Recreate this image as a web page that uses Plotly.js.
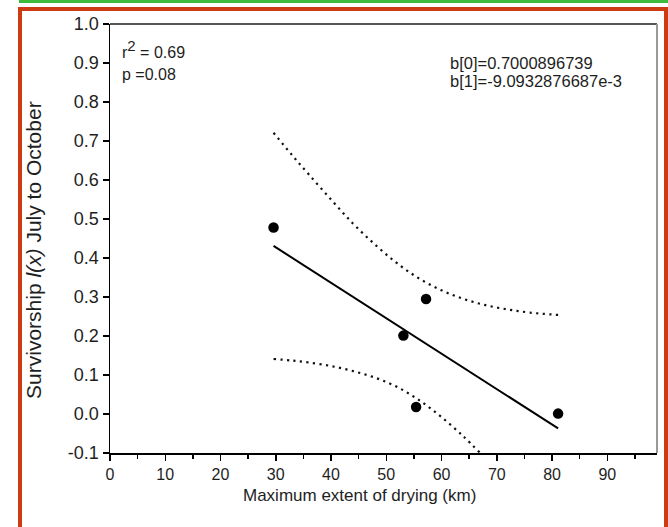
<!DOCTYPE html>
<html>
<head>
<meta charset="utf-8">
<script src="https://cdn.plot.ly/plotly-3.0.1.min.js"></script>
<style>
  html, body { margin: 0; padding: 0; background: #ffffff; }
  #wrap { position: relative; width: 668px; height: 527px; overflow: hidden; }
  #chart { position: absolute; left: 0; top: 0; width: 668px; height: 527px; }
  #green { position: absolute; left: 19px; top: 0; width: 649px; height: 3px; background: #3cbb3c; }
  #frame { position: absolute; left: 18px; top: 7px; width: 650px; height: 540px;
           border: 4px solid #cc3b12; border-bottom: none; box-sizing: border-box; pointer-events: none; }
</style>
</head>
<body>
<div id="wrap">
  <div id="chart"></div>
  <div id="green"></div>
  <div id="frame"></div>
</div>
<script>
// Observed data points
const drying = [29.6, 53.1, 57.2, 55.4, 81.1];
const survivorship = [0.478, 0.201, 0.295, 0.018, 0.001];

// Regression line
const fitX = [29.6, 81.1];
const fitY = [0.431, -0.037];

// Upper dotted band
const upperX = [29.6, 33, 36, 40, 44, 48, 52, 56, 60, 64, 68, 72, 76, 81.1];
const upperY = [0.721, 0.663, 0.614, 0.550, 0.488, 0.434, 0.386, 0.347, 0.317, 0.295, 0.279, 0.268, 0.260, 0.254];

// Lower dotted band
const lowerX = [29.6, 33, 36, 40, 44, 48, 52, 56, 60, 64, 67];
const lowerY = [0.141, 0.137, 0.132, 0.123, 0.110, 0.093, 0.069, 0.035, -0.008, -0.058, -0.100];

// Tick labels
const xTickVals = [0, 10, 20, 30, 40, 50, 60, 70, 80, 90];
const xTickText = ['0', '10', '20', '30', '40', '50', '60', '70', '80', '90'];
const yTickVals = [-0.1, 0, 0.1, 0.2, 0.3, 0.4, 0.5, 0.6, 0.7, 0.8, 0.9, 1.0];
const yTickText = ['-0.1', '0.0', '0.1', '0.2', '0.3', '0.4', '0.5', '0.6', '0.7', '0.8', '0.9', '1.0'];

const FONT = 'Arial, "Liberation Sans", Helvetica, sans-serif';
const TXT = '#1e1e1e';
const dotStyle = {color: '#111', width: 2.2, dash: '2.2px,4.4px', shape: 'spline'};

const traces = [
  {x: upperX, y: upperY, mode: 'lines', line: dotStyle, hoverinfo: 'skip'},
  {x: lowerX, y: lowerY, mode: 'lines', line: dotStyle, hoverinfo: 'skip'},
  {x: fitX, y: fitY, mode: 'lines', line: {color: '#000', width: 2}},
  {x: drying, y: survivorship, mode: 'markers', marker: {color: '#000', size: 10.5}, cliponaxis: false}
];

const layout = {
  width: 668, height: 527,
  margin: {l: 110, r: 11, t: 24, b: 74},
  paper_bgcolor: '#ffffff', plot_bgcolor: '#ffffff',
  showlegend: false,
  font: {family: FONT, size: 16, color: TXT},
  xaxis: {
    range: [0, 99], showgrid: false, zeroline: false,
    showline: true, linecolor: '#000', linewidth: 1.5,
    tickmode: 'array', tickvals: xTickVals, ticktext: xTickText,
    ticks: 'outside', ticklen: 6, tickwidth: 1.5, tickcolor: '#000',
    tickfont: {family: FONT, size: 16, color: TXT},
    minor: {dtick: 5, tick0: 0, ticks: 'outside', ticklen: 4, tickwidth: 1.5, tickcolor: '#000', showgrid: false}
  },
  yaxis: {
    range: [-0.1, 1.0], showgrid: false, zeroline: false,
    showline: true, linecolor: '#000', linewidth: 1.5,
    tickmode: 'array', tickvals: yTickVals, ticktext: yTickText,
    ticks: 'outside', ticklen: 6, tickwidth: 1.5, tickcolor: '#000',
    tickfont: {family: FONT, size: 18, color: TXT}
  },
  shapes: [
    {type: 'line', xref: 'paper', yref: 'paper', x0: 0, x1: 1, y0: 1, y1: 1, line: {color: '#555', width: 2}},
    {type: 'line', xref: 'paper', yref: 'paper', x0: 1, x1: 1, y0: 0, y1: 1, line: {color: '#999', width: 2}}
  ],
  annotations: [
    {xref: 'paper', yref: 'paper', x: 0.457, y: -0.098, xanchor: 'center', yanchor: 'middle', showarrow: false,
     text: 'Maximum extent of drying (km)', font: {family: FONT, size: 17, color: TXT}},
    {xref: 'paper', yref: 'paper', x: -0.141, y: 0.473, xanchor: 'center', yanchor: 'middle', showarrow: false,
     textangle: -90, text: 'Survivorship <i>l(x)</i> July to October', font: {family: FONT, size: 21, color: TXT}},
    {xref: 'paper', yref: 'paper', x: 0.018, y: 0.941, xanchor: 'left', yanchor: 'middle', showarrow: false,
     text: 'r<sup><span style="font-size:15px">2</span></sup> = 0.69', font: {family: FONT, size: 16, color: TXT}},
    {xref: 'paper', yref: 'paper', x: 0.018, y: 0.882, xanchor: 'left', yanchor: 'middle', showarrow: false,
     text: 'p =0.08', font: {family: FONT, size: 16, color: TXT}},
    {xref: 'paper', yref: 'paper', x: 0.618, y: 0.908, xanchor: 'left', yanchor: 'middle', showarrow: false,
     text: 'b[0]=0.7000896739', font: {family: FONT, size: 16.5, color: TXT}},
    {xref: 'paper', yref: 'paper', x: 0.618, y: 0.866, xanchor: 'left', yanchor: 'middle', showarrow: false,
     text: 'b[1]=-9.0932876687e-3', font: {family: FONT, size: 16.5, color: TXT}}
  ]
};

Plotly.newPlot('chart', traces, layout, {staticPlot: true, displayModeBar: false});
</script>
</body>
</html>
